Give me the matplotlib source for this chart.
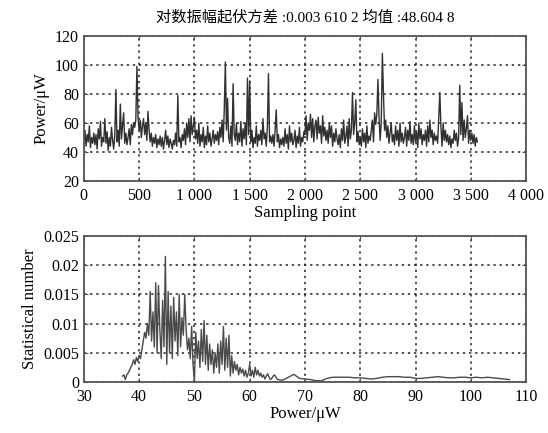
import numpy as np
import matplotlib
matplotlib.use("Agg")
import matplotlib.pyplot as plt
from matplotlib.ticker import FuncFormatter

plt.rcParams['font.family'] = ['Liberation Serif', 'Noto Sans CJK SC']

# top: power sampled every 10 points
power = [
    48, 55, 44, 52, 47, 58, 43, 50, 46, 53,
    45, 52, 42, 56, 49, 61, 44, 50, 47, 63,
    46, 54, 41, 50, 44, 57, 48, 42, 52, 83,
    47, 55, 44, 73, 49, 58, 67, 46, 53, 45,
    50, 56, 45, 59, 52, 60, 57, 62, 99, 64,
    55, 62, 50, 58, 63, 52, 60, 48, 68, 55,
    47, 53, 44, 50, 46, 52, 43, 49, 45, 51,
    44, 50, 42, 48, 55, 45, 51, 43, 49, 46,
    42, 48, 45, 53, 44, 79, 47, 50, 43, 52,
    48, 56, 45, 60, 50, 63, 47, 65, 52, 58,
    64, 49, 55, 46, 60, 44, 52, 47, 57, 43,
    51, 45, 58, 47, 53, 44, 49, 55, 46, 52,
    48, 54, 45, 57, 50, 62, 47, 69, 102, 55,
    77, 50, 46, 58, 44, 87, 52, 48, 60, 45,
    53, 47, 61, 44, 56, 49, 60, 45, 91, 52,
    89, 47, 55, 43, 50, 46, 58, 44, 52, 48,
    55, 45, 63, 49, 53, 44, 57, 94, 47, 51,
    46, 52, 44, 55, 69, 47, 52, 43, 49, 45,
    50, 44, 56, 46, 52, 42, 58, 47, 53, 45,
    48, 55, 43, 51, 46, 57, 44, 50, 47, 54,
    52, 65, 48, 60, 55, 66, 50, 63, 47, 58,
    62, 49, 64, 53, 58, 46, 65, 51, 57, 48,
    55, 46, 60, 50, 58, 44, 53, 47, 56, 49,
    45, 52, 43, 56, 48, 62, 46, 50, 58, 44,
    63, 49, 55, 81, 52, 60, 76, 47, 54, 45,
    50, 44, 56, 47, 53, 43, 58, 46, 51, 48,
    55, 62, 47, 67, 59, 66, 90, 64, 48, 60,
    108, 80, 55, 62, 50, 58, 46, 53, 60, 47,
    52, 45, 58, 48, 55, 44, 60, 47, 53, 46,
    50, 57, 44, 55, 48, 61, 46, 52, 45, 58,
    47, 54, 43, 60, 49, 56, 45, 52, 48, 55,
    44, 58, 47, 62, 50, 55, 45, 53, 48, 51,
    46, 64, 81, 57, 44, 60, 48, 55, 47, 52,
    45, 51, 43, 49, 46, 55, 48, 53, 44, 50,
    86, 52, 74, 48, 62, 50, 56, 65, 46, 55,
    48, 53, 46, 52, 44, 50, 47,
]
sample = np.arange(len(power)) * 10

# bottom: distribution of power
hist_x = np.concatenate([np.arange(37.0, 65.0, 0.25), np.arange(65, 108, 1.0)])
hist_y = [
    0.0010, 0.0012, 0.0004, 0.0012, 0.0015, 0.0020, 0.0025, 0.0030,
    0.0038, 0.0030, 0.0042, 0.0035, 0.0045, 0.0040, 0.0055, 0.0070,
    0.0085, 0.0075, 0.0100, 0.0080, 0.0155, 0.0070, 0.0120, 0.0060,
    0.0170, 0.0050, 0.0165, 0.0090, 0.0040, 0.0140, 0.0060, 0.0215,
    0.0030, 0.0155, 0.0050, 0.0130, 0.0040, 0.0145, 0.0070, 0.0120,
    0.0045, 0.0150, 0.0060, 0.0110, 0.0080, 0.0150, 0.0090, 0.0055,
    0.0075, 0.0040, 0.0095, 0.0030, 0.0000, 0.0085, 0.0040, 0.0070,
    0.0025, 0.0090, 0.0035, 0.0105, 0.0030, 0.0080, 0.0020, 0.0065,
    0.0030, 0.0055, 0.0015, 0.0050, 0.0025, 0.0065, 0.0015, 0.0070,
    0.0030, 0.0095, 0.0020, 0.0075, 0.0025, 0.0080, 0.0010, 0.0045,
    0.0015, 0.0035, 0.0020, 0.0030, 0.0012, 0.0025, 0.0015, 0.0022,
    0.0010, 0.0020, 0.0008, 0.0015, 0.0030, 0.0010, 0.0020, 0.0008,
    0.0025, 0.0012, 0.0020, 0.0010, 0.0015, 0.0008, 0.0012, 0.0005,
    0.0010, 0.0014, 0.0008, 0.0004, 0.0006, 0.0010, 0.0012, 0.0008,
    0.0004, 0.0003, 0.0008, 0.0013, 0.0006, 0.0005, 0.0004, 0.0002,
    0.0002, 0.0006, 0.0008, 0.0008, 0.0008, 0.0008, 0.0007, 0.0007,
    0.0006, 0.0005, 0.0006, 0.0008, 0.0009, 0.0009, 0.0009, 0.0008,
    0.0008, 0.0006, 0.0006, 0.0007, 0.0008, 0.0009, 0.0008, 0.0007,
    0.0007, 0.0008, 0.0008, 0.0007, 0.0008, 0.0007, 0.0008, 0.0007,
    0.0006, 0.0005, 0.0004,
]

title = "对数振幅起伏方差 :0.003 610 2 均值 :48.604 8"


def thousands(v, pos):
    v = int(round(v))
    if v >= 1000:
        return "{} {:03d}".format(v // 1000, v % 1000)
    return str(v)


def style(ax):
    ax.grid(True, linestyle=(0, (1.5, 2.5)), color='#222222', linewidth=1.1)
    ax.tick_params(direction='in', top=True, right=True, labelsize=11.5,
                   length=3, color='#555555')
    ax.tick_params(axis='x', pad=5)
    for s in ax.spines.values():
        s.set_color('#555555')
        s.set_linewidth(1.3)


fig = plt.figure(figsize=(5.48, 4.33), dpi=100)
ax1 = fig.add_axes([0.153, 0.582, 0.807, 0.335])
ax2 = fig.add_axes([0.153, 0.118, 0.807, 0.337])

ax1.plot(sample, power, color='#303030', linewidth=1.0)
ax1.set_xlim(0, 4000)
ax1.set_ylim(20, 120)
ax1.set_xticks(range(0, 4001, 500))
ax1.set_yticks(range(20, 121, 20))
ax1.xaxis.set_major_formatter(FuncFormatter(thousands))
ax1.set_xlabel("Sampling point", fontsize=12, labelpad=1)
ax1.set_ylabel("Power/μW", fontsize=12, labelpad=4)
style(ax1)

ax2.plot(hist_x, hist_y, color='#4a4a4a', linewidth=1.0)
ax2.set_xlim(30, 110)
ax2.set_ylim(0, 0.025)
ax2.set_xticks(range(30, 111, 10))
ax2.set_yticks([0, 0.005, 0.01, 0.015, 0.02, 0.025])
ax2.set_yticklabels(["0", "0.005", "0.01", "0.015", "0.02", "0.025"])
ax2.set_xlabel("Power/μW", fontsize=12, labelpad=1)
ax2.set_ylabel("Statistical number", fontsize=12, labelpad=4)
style(ax2)

fig.text(0.557, 0.96, title, ha='center', va='center', fontsize=11)

fig.savefig("out.png", dpi=100)
